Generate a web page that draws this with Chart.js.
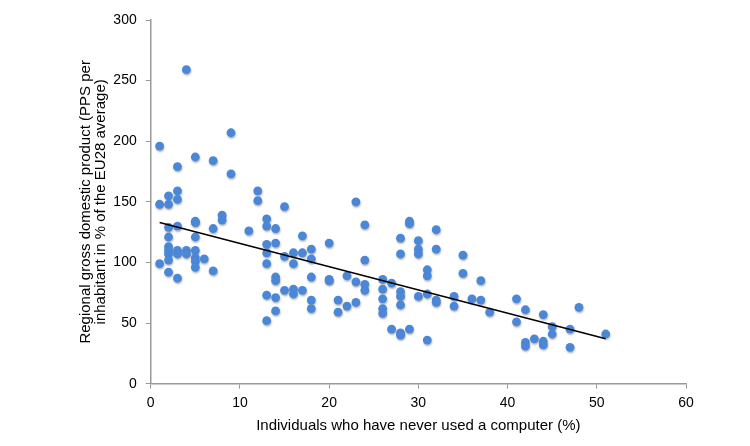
<!DOCTYPE html>
<html>
<head>
<meta charset="utf-8">
<script src="https://cdn.jsdelivr.net/npm/chart.js@4"></script>
<style>
  html, body { margin: 0; padding: 0; background: #fff; }
  #wrap { width: 750px; height: 446px; }
</style>
</head>
<body>
<div id="wrap"><canvas id="gdpChart" width="750" height="446"></canvas></div>
<script>
// share of people who never used a computer (%), one entry per region
const neverUsed = [
  1, 1, 1,
  2, 2, 2, 2, 2, 2, 2, 2, 2,
  3, 3, 3, 3, 3, 3, 3,
  4, 4, 4,
  5, 5, 5, 5, 5, 5, 5, 5,
  6, 7, 7, 7, 8, 8, 9, 9, 11, 12, 12,
  13, 13, 13, 13, 13, 13, 13,
  14, 14, 14, 14, 14, 14,
  15, 15, 15, 16, 16, 16, 16, 17, 17, 17,
  18, 18, 18, 18, 18,
  20, 20, 20, 21, 21, 22, 22, 23, 23, 23,
  24, 24, 24, 24,
  26, 26, 26, 26, 26, 27, 27,
  28, 28, 28, 28, 28, 28, 28,
  29, 29, 29, 30, 30, 30, 30,
  31, 31, 31, 31, 32, 32, 32, 32,
  34, 34, 35, 35, 36, 37, 37, 38,
  41, 41, 42, 42, 42, 43, 44, 44, 44,
  45, 45, 47, 47, 48, 51
];
// regional GDP (PPS per inhabitant, % of EU28 average), same order
const gdpIndex = [
  196, 148, 99,
  155, 148, 129, 121, 113, 110, 107, 102, 92,
  179, 159, 152, 130, 110, 107, 87,
  259, 110, 107,
  187, 134, 133, 121, 110, 104, 101, 96,
  103, 184, 128, 93, 139, 135, 207, 173, 126, 159, 151,
  136, 130, 115, 108, 99, 73, 52,
  128, 116, 88, 85, 71, 60,
  146, 105, 77, 108, 99, 78, 74, 122, 108, 77,
  111, 103, 88, 69, 62,
  116, 86, 85, 69, 59, 89, 64, 150, 84, 67,
  131, 102, 82, 77,
  86, 78, 70, 62, 58, 83, 45,
  120, 107, 76, 72, 65, 42, 40,
  134, 132, 45, 118, 111, 107, 72,
  94, 89, 74, 36, 127, 111, 69, 67,
  72, 64, 106, 91, 70, 85, 69, 59,
  70, 51, 61, 34, 31, 37, 57, 35, 32,
  47, 41, 45, 30, 63, 41
];
// linear trend line end points
const trendX = [1, 51];
const trendY = [133, 37];

const xTitle = 'Individuals who have never used a computer (%)';
const yTitle = ['Regional gross domestic product (PPS per', 'inhabitant in % of the EU28 average)'];

const points = neverUsed.map((x, i) => ({ x: x, y: gdpIndex[i] }));
const trend = trendX.map((x, i) => ({ x: x, y: trendY[i] }));

// soft drop shadow under the dots, like the original
const dotShadow = {
  id: 'dotShadow',
  beforeDatasetDraw(chart, args) {
    if (args.index !== 1) return;
    const c = chart.ctx;
    c.save();
    c.shadowColor = 'rgba(0,0,0,0.3)';
    c.shadowBlur = 2;
    c.shadowOffsetX = 0.5;
    c.shadowOffsetY = 1.5;
  },
  afterDatasetDraw(chart, args) {
    if (args.index === 1) chart.ctx.restore();
  }
};

const axisGrey = '#9a9a9a';
const family = 'Liberation Sans, Arial, Helvetica, sans-serif';
const tickFont = { family: family, size: 14 };
const titleFont = { family: family, size: 15 };

new Chart(document.getElementById('gdpChart').getContext('2d'), {
  type: 'scatter',
  data: {
    datasets: [
      {
        label: 'Trend',
        data: trend,
        showLine: true,
        borderColor: '#000',
        borderWidth: 1.5,
        pointRadius: 0,
        fill: false
      },
      {
        label: 'Regions',
        data: points,
        backgroundColor: '#4a87d7',
        borderWidth: 0,
        pointRadius: 4.4
      }
    ]
  },
  options: {
    responsive: false,
    animation: false,
    layout: { padding: { left: 70, right: 64, top: 20, bottom: 0 } },
    plugins: {
      legend: { display: false },
      tooltip: { enabled: false }
    },
    scales: {
      x: {
        type: 'linear',
        min: 0,
        max: 60,
        ticks: { stepSize: 10, color: '#000', font: tickFont, padding: 6 },
        grid: { drawOnChartArea: false, drawTicks: true, tickLength: 5, color: axisGrey },
        border: { display: true, color: axisGrey, width: 1.5 },
        title: { display: true, text: xTitle, color: '#000', font: titleFont, padding: { top: 4, bottom: 11 } },
        afterFit: (scale) => { scale.height = 62.3; }
      },
      y: {
        min: 0,
        max: 300,
        ticks: { stepSize: 50, color: '#000', font: tickFont, padding: 9 },
        grid: { drawOnChartArea: false, drawTicks: true, tickLength: 5, color: axisGrey },
        border: { display: true, color: axisGrey, width: 1.5 },
        title: { display: true, text: yTitle, color: '#000', font: { family: family, size: 15, lineHeight: 1.0 }, padding: { top: 8, bottom: 0 } },
        afterFit: (scale) => { scale.width = 80.7; }
      }
    }
  },
  plugins: [dotShadow]
});
</script>
</body>
</html>
